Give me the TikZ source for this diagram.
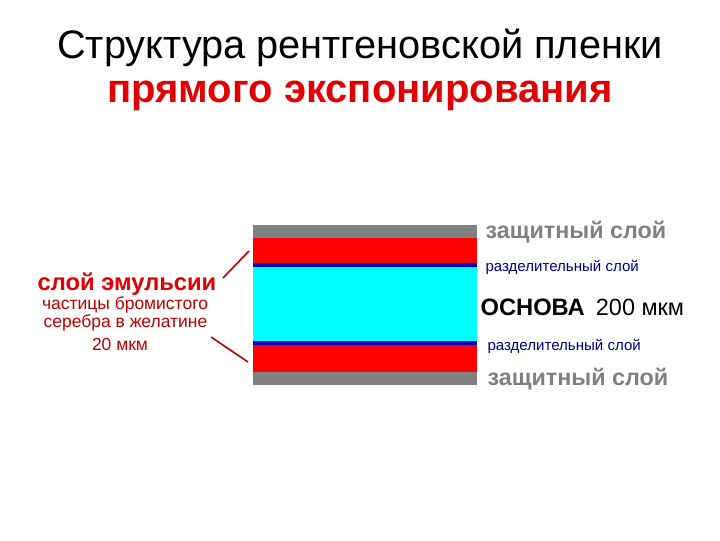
\documentclass[tikz,border=0pt]{standalone}
\usepackage{fontspec}
\setmainfont{Liberation Sans}
\usetikzlibrary{positioning}

\definecolor{filmgray}{RGB}{128,128,128}
\definecolor{filmred}{RGB}{255,0,0}
\definecolor{filmblue}{RGB}{0,0,200}
\definecolor{filmcyan}{RGB}{0,255,255}
\definecolor{titlered}{RGB}{225,0,0}
\definecolor{darkred}{RGB}{190,0,0}
\definecolor{navy}{RGB}{0,0,140}

\begin{document}
\begin{tikzpicture}[x=0.75pt, y=-0.75pt, thick, inner sep=0pt]
      \tikzstyle{prot}=[anchor=base west, font=\fontsize{17.5}{20}\selectfont\bfseries, text=filmgray]
      \tikzstyle{sep}=[anchor=base west, font=\fontsize{11.3}{14}\selectfont, text=navy]
      \tikzstyle{note}=[anchor=base, font=\fontsize{13.1}{15}\selectfont, text=darkred]
      \tikzstyle{pointer}=[darkred, line width=1.2pt]

      \useasboundingbox (0,0) rectangle (720,540);

      % title
      \node[anchor=base, font=\fontsize{29.8}{34}\selectfont] (T1) at (360,58) {Структура рентгеновской пленки};
      \node[anchor=base, font=\fontsize{30}{34}\selectfont\bfseries, text=titlered] (T2) at (360,102) {прямого экспонирования};

      % film layers
      \fill[filmgray] (253,225) rectangle (477,238);
      \fill[filmred]  (253,238) rectangle (477,263);
      \fill[filmblue] (253,263) rectangle (477,267);
      \fill[filmcyan] (253,267) rectangle (477,341);
      \fill[filmblue] (253,341) rectangle (477,345);
      \fill[filmred]  (253,345) rectangle (477,372);
      \fill[filmgray] (253,372) rectangle (477,385);

      % right labels
      \node[prot] (Z1) at (485,238) {защитный слой};
      \node[sep] (R1) at (485,271) {разделительный слой};
      \node[anchor=base west, font=\fontsize{17.8}{22}\selectfont\bfseries] (OS) at (480,315) {ОСНОВА};
      \node[font=\fontsize{17.6}{22}\selectfont, right=7.5pt of OS.base east, anchor=base west] (MK) {200 мкм};
      \node[sep] (R2) at (487,350) {разделительный слой};
      \node[prot] (Z2) at (487,385) {защитный слой};

      % left labels
      \node[anchor=base, font=\fontsize{17.8}{20}\selectfont\bfseries, text=titlered] (EM) at (127,290) {слой эмульсии};
      \node[note] (N1) at (125,309) {частицы бромистого};
      \node[note] (N2) at (125.5,327) {серебра в желатине};
      \node[note] (N3) at (120,350) {20 мкм};

      \coordinate (A1) at (223,278);
      \coordinate (B1) at (249,251);
      \coordinate (A2) at (211,337);
      \coordinate (B2) at (248,362);
      \draw[pointer] (A1) -- (B1);
      \draw[pointer] (A2) -- (B2);
    \end{tikzpicture}
\end{document}
